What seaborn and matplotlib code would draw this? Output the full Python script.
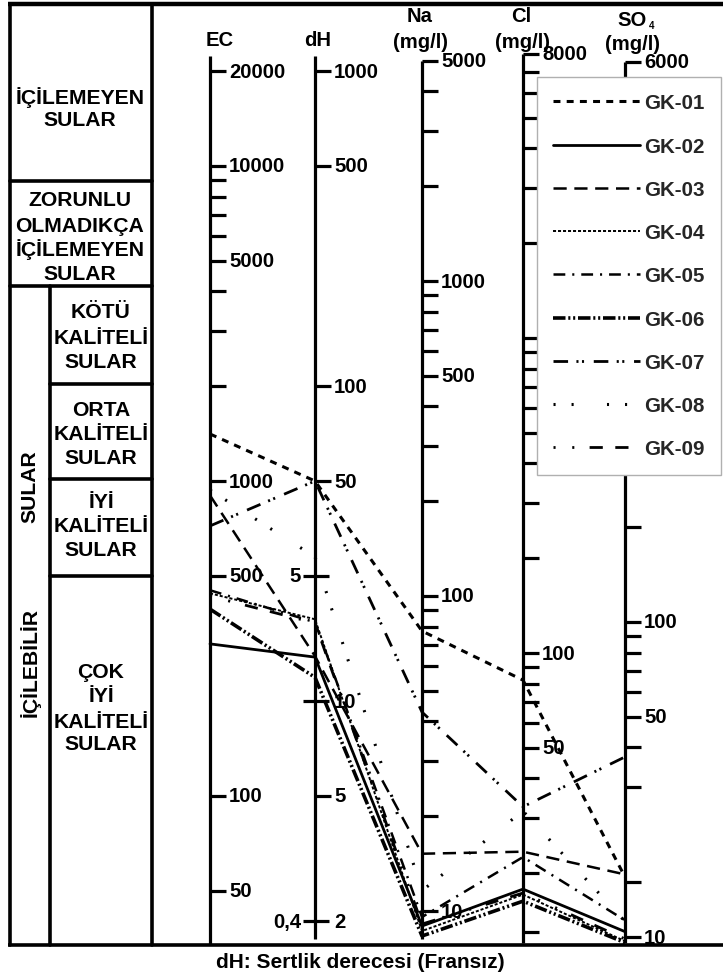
import numpy as np
import pandas as pd
import matplotlib
matplotlib.use("Agg")
import matplotlib.pyplot as plt
import seaborn as sns
from matplotlib.lines import Line2D

# ---------------- data ----------------
samples = ["GK-01", "GK-02", "GK-03", "GK-04", "GK-05", "GK-06", "GK-07", "GK-08", "GK-09"]
axis_names = ["EC", "dH", "Na", "Cl", "SO4"]
ec_values = [1410, 304, 900, 440, 450, 392, 720, 936, 431]
dh_values = [50, 13.8, 13.9, 18.2, 17.8, 11.9, 50, 28.7, 17.7]
na_values = [77.4, 8.96, 15.2, 8.64, 9.57, 8.33, 42.8, 11.6, 9.09]
cl_values = [82, 17.8, 23.4, 17.1, 22.5, 16.3, 32.5, 31.5, 17.3]
so4_values = [15.5, 10.4, 15.8, 9.7, 11.3, 9.6, 37.3, 11.2, 9.86]

ec_ticks = [20000, 10000, 9000, 8000, 7000, 6000, 5000, 4000, 3000, 2000, 1000, 500, 100, 50]
ec_tick_labels = {20000: "20000", 10000: "10000", 5000: "5000", 1000: "1000", 500: "500", 100: "100", 50: "50"}
dh_ticks = [1000, 500, 100, 50, 25, 10, 5, 2]
dh_tick_labels = {1000: "1000", 500: "500", 100: "100", 50: "50", 10: "10", 5: "5", 2: "2"}
dh_left_labels = {25: "5", 2: "0,4"}
dh_cross_ticks = [25, 10, 2]
na_ticks = [5000, 4000, 3000, 2000, 1000, 900, 800, 700, 600, 500, 400, 300, 200,
            100, 90, 80, 70, 60, 50, 40, 30, 20, 10]
na_tick_labels = {5000: "5000", 1000: "1000", 500: "500", 100: "100", 10: "10"}
cl_ticks = [8000, 7000, 6000, 5000, 4000, 3000, 2000, 1000, 900, 800, 700, 600, 500, 400,
            300, 200, 100, 90, 80, 70, 60, 50, 40, 30, 20, 13]
cl_tick_labels = {8000: "8000", 100: "100", 50: "50"}
so4_ticks = [6000, 5000, 4000, 3000, 2000, 1000, 900, 800, 700, 600, 500, 400, 300, 200,
             100, 90, 80, 70, 60, 50, 40, 30, 15, 10]
so4_tick_labels = {6000: "6000", 100: "100", 50: "50", 10: "10"}

# ---------------- layout (pixel frame) ----------------
PX_DEC = 315
cfg = {
    "EC": dict(x=210, ref=100, yref=797, top=57, bottom=946),
    "dH": dict(x=315, ref=5, yref=797, top=57, bottom=940),
    "Na": dict(x=422, ref=100, yref=597, top=62, bottom=940),
    "Cl": dict(x=523, ref=100, yref=654, top=55, bottom=944),
    "SO4": dict(x=625, ref=100, yref=623, top=63, bottom=944),
}


def ypos(name, v):
    c = cfg[name]
    return c["yref"] - PX_DEC * np.log10(np.asarray(v, dtype=float) / c["ref"])


styles = {
    "GK-01": dict(lw=2.2, ls=(0, (5, 4.5))),
    "GK-02": dict(lw=2.0, ls="-"),
    "GK-03": dict(lw=1.8, ls=(0, (9.5, 5.5))),
    "GK-04": dict(lw=1.4, ls=(0, (2.2, 1.4))),
    "GK-05": dict(lw=1.8, ls=(0, (8.5, 5, 1.5, 5))),
    "GK-06": dict(lw=2.6, ls=(0, (9, 2, 1.5, 2, 1.5, 2))),
    "GK-07": dict(lw=2.0, ls=(0, (10.5, 6, 1.5, 2.5, 1.5, 7))),
    "GK-08": dict(lw=2.2, ls=(0, (1.5, 11.5, 1.5, 24))),
    "GK-09": dict(lw=2.0, ls=(0, (1.5, 12, 1.5, 11, 9.5, 9, 9.5, 12))),
}

sns.set_theme(style="white")
plt.rcParams["font.family"] = ["Liberation Sans", "DejaVu Sans"]
plt.rcParams["lines.scale_dashes"] = False

fig = plt.figure(figsize=(7.23, 9.78), dpi=100)
ax = fig.add_axes([0, 0, 1, 1])

# ---------------- series ----------------
series = {"EC": ec_values, "dH": dh_values, "Na": na_values, "Cl": cl_values, "SO4": so4_values}
rows = []
for i, s in enumerate(samples):
    for name in axis_names:
        rows.append(dict(sample=s, axis=name, x=cfg[name]["x"], y=float(ypos(name, series[name][i]))))
df = pd.DataFrame(rows)

for s in samples:
    sub = df[df["sample"] == s]
    sns.lineplot(data=sub, x="x", y="y", ax=ax, sort=False, estimator=None, color="black",
                 lw=styles[s]["lw"], linestyle=styles[s]["ls"], legend=False, zorder=3)

# ---------------- frame & left panel ----------------
K = "black"
FW = 2.6
ax.plot([8, 723], [5, 5], color=K, lw=3.2, solid_capstyle="butt")
ax.plot([8, 723], [946, 946], color=K, lw=FW, solid_capstyle="butt")
ax.plot([10, 10], [5, 946], color=K, lw=FW)
ax.plot([152, 152], [5, 946], color=K, lw=FW)
ax.plot([50, 50], [287, 946], color=K, lw=FW)
for yy in [182, 287]:
    ax.plot([10, 152], [yy, yy], color=K, lw=FW)
for yy in [385, 480, 577]:
    ax.plot([50, 152], [yy, yy], color=K, lw=FW)

FS_PANEL = 15.2
bold = dict(fontweight="bold", color=K)
panel_texts = [
    (80, [("İÇİLEMEYEN", 98), ("SULAR", 120)]),
    (80, [("ZORUNLU", 200), ("OLMADIKÇA", 226), ("İÇİLEMEYEN", 250), ("SULAR", 274)]),
    (101, [("KÖTÜ", 313), ("KALİTELİ", 338), ("SULAR", 362)]),
    (101, [("ORTA", 410), ("KALİTELİ", 435), ("SULAR", 458)]),
    (101, [("İYİ", 502), ("KALİTELİ", 527), ("SULAR", 550)]),
    (101, [("ÇOK", 673), ("İYİ", 697), ("KALİTELİ", 722), ("SULAR", 745)]),
]
for xc, lines in panel_texts:
    for txt, yy in lines:
        ax.text(xc, yy, txt, ha="center", va="center", fontsize=FS_PANEL, **bold)
ax.text(30, 487, "SULAR", rotation=90, ha="center", va="center", fontsize=FS_PANEL, **bold)
ax.text(30, 662, "İÇİLEBİLİR", rotation=90, ha="center", va="center", fontsize=FS_PANEL, **bold)

# ---------------- parallel axes ----------------
FS_TICK = 14.6
TL = 16
AW = 2.3
ticks_all = {
    "EC": (ec_ticks, ec_tick_labels),
    "dH": (dh_ticks, dh_tick_labels),
    "Na": (na_ticks, na_tick_labels),
    "Cl": (cl_ticks, cl_tick_labels),
    "SO4": (so4_ticks, so4_tick_labels),
}
for name in axis_names:
    c = cfg[name]
    x0 = c["x"]
    ax.plot([x0, x0], [c["top"], c["bottom"]], color=K, lw=AW, solid_capstyle="butt", zorder=2)
    tks, lbls = ticks_all[name]
    for t in tks:
        yy = float(ypos(name, t))
        if name == "dH" and t in dh_cross_ticks:
            ax.plot([x0 - 12, x0 + 14], [yy, yy], color=K, lw=AW, solid_capstyle="butt", zorder=2)
        else:
            ax.plot([x0, x0 + TL], [yy, yy], color=K, lw=AW, solid_capstyle="butt", zorder=2)
        if t in lbls:
            ax.text(x0 + TL + 3, yy, lbls[t], ha="left", va="center", fontsize=FS_TICK, zorder=2, **bold)
    if name == "dH":
        for t, lab in dh_left_labels.items():
            ax.text(x0 - 14, float(ypos(name, t)), lab, ha="right", va="center",
                    fontsize=FS_TICK, zorder=2, **bold)

# headers
ax.text(220, 40, "EC", ha="center", va="center", fontsize=FS_TICK, **bold)
ax.text(318, 40, "dH", ha="center", va="center", fontsize=FS_TICK, **bold)
ax.text(420, 17, "Na", ha="center", va="center", fontsize=FS_TICK, **bold)
ax.text(420, 43, "(mg/l)", ha="center", va="center", fontsize=FS_TICK, **bold)
ax.text(521, 17, "Cl", ha="center", va="center", fontsize=FS_TICK, **bold)
ax.text(523, 43, "(mg/l)", ha="center", va="center", fontsize=FS_TICK, **bold)
ax.text(632, 20, "SO", ha="center", va="center", fontsize=FS_TICK, **bold)
ax.text(649, 26, "4", ha="left", va="center", fontsize=7, **bold)
ax.text(633, 45, "(mg/l)", ha="center", va="center", fontsize=FS_TICK, **bold)

# caption
ax.text(360, 963, "dH: Sertlik derecesi (Fransız)", ha="center", va="center", fontsize=15, **bold)

# ---------------- legend ----------------
handles = [Line2D([], [], color=K, lw=styles[s]["lw"], linestyle=styles[s]["ls"]) for s in samples]
leg = ax.legend(handles, samples, loc="upper left", bbox_to_anchor=(537 / 723, 1 - 78 / 978),
                borderaxespad=0, frameon=True, fancybox=False, framealpha=1,
                prop=dict(family="Liberation Sans", weight="bold", size=14.8),
                handlelength=4.2, handletextpad=0.2, labelspacing=1.18, borderpad=0.8)
leg.get_frame().set_edgecolor("#b0b0b0")
leg.get_frame().set_linewidth(1.0)
leg.set_zorder(10)

ax.set_xlim(0, 723)
ax.set_ylim(978, 0)
ax.set_axis_off()

fig.savefig("out.png", dpi=100, facecolor="white")
